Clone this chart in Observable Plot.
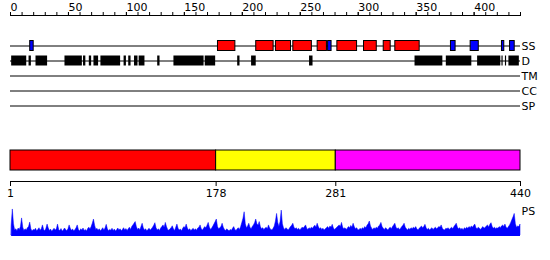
<!DOCTYPE html>
<html>
<head>
<meta charset="utf-8">
<script src="https://cdn.jsdelivr.net/npm/d3@7"></script>
<script src="https://cdn.jsdelivr.net/npm/@observablehq/plot@0.6"></script>
<style>
  html, body { margin: 0; padding: 0; background: #fff; }
  #chart { position: relative; width: 550px; height: 260px; background: #fff; overflow: hidden; }
  #chart svg { position: absolute; left: 0; }
</style>
</head>
<body>
<div id="chart"></div>
<script>
// ---------- data ----------
const seqLength = 440;
const tracks = ["SS", "D", "TM", "CC", "SP"];
const topTickLabels = [0, 50, 100, 150, 200, 250, 300, 350, 400];
const minorTicks = [0,10,20,30,40,50,60,70,80,90,100,110,120,130,140,150,160,170,180,190,200,210,220,230,240,250,260,270,280,290,300,310,320,330,340,350,360,370,380,390,400,410,420,430,440];

// secondary structure (start, end residues)
const helixStart = [179, 212, 229, 244, 265, 282, 305, 322, 332];
const helixEnd   = [194, 227, 242, 260, 273, 299, 316, 328, 353];
const strandStart = [17, 274, 380, 397, 424, 431];
const strandEnd   = [20, 277, 384, 404, 426, 435];

// disorder segments
const disorderStart = [1, 16, 22, 47, 63, 68, 72, 78, 98, 102, 107, 111, 127, 141, 168, 196, 208, 258, 349, 376, 403, 424, 427, 430];
const disorderEnd   = [14, 18, 32, 62, 65, 70, 76, 95, 100, 104, 110, 116, 129, 167, 177, 198, 212, 261, 373, 398, 423, 425, 428, 439];

// domains
const domainStart = [1, 178, 281];
const domainEnd = [178, 281, 440];
const domainColors = ["#ff0000", "#ffff00", "#ff00ff"];
const domainTicks = [1, 178, 281, 440];

// PS per-residue scores (1..440)
const psScores = [
0.35,0.93,0.40,0.18,0.22,0.15,0.25,0.20,0.30,0.61,0.28,0.16,0.22,0.18,0.26,0.30,0.46,0.22,0.14,0.20,
0.18,0.24,0.15,0.20,0.26,0.17,0.22,0.36,0.20,0.15,0.24,0.39,0.25,0.16,0.21,0.13,0.19,0.24,0.18,0.22,
0.39,0.20,0.16,0.23,0.14,0.18,0.25,0.20,0.15,0.22,0.36,0.24,0.17,0.21,0.15,0.19,0.26,0.36,0.20,0.14,
0.22,0.18,0.25,0.16,0.20,0.14,0.23,0.28,0.21,0.30,0.42,0.57,0.35,0.20,0.24,0.17,0.22,0.15,0.20,0.26,
0.18,0.25,0.38,0.22,0.15,0.20,0.17,0.24,0.16,0.21,0.14,0.19,0.25,0.18,0.22,0.15,0.20,0.26,0.18,0.23,
0.16,0.22,0.28,0.20,0.30,0.36,0.42,0.48,0.30,0.20,0.25,0.18,0.30,0.42,0.26,0.18,0.22,0.15,0.20,0.24,
0.18,0.22,0.28,0.35,0.44,0.26,0.18,0.22,0.16,0.25,0.30,0.36,0.28,0.45,0.30,0.20,0.17,0.22,0.26,0.33,
0.22,0.16,0.28,0.39,0.24,0.18,0.21,0.15,0.24,0.30,0.26,0.39,0.25,0.18,0.22,0.16,0.20,0.24,0.18,0.22,
0.17,0.25,0.28,0.36,0.22,0.18,0.24,0.30,0.26,0.35,0.45,0.28,0.20,0.25,0.32,0.40,0.48,0.57,0.30,0.22,
0.26,0.30,0.42,0.28,0.20,0.16,0.22,0.18,0.15,0.20,0.17,0.24,0.30,0.20,0.16,0.22,0.26,0.20,0.30,0.45,
0.60,0.83,0.40,0.26,0.32,0.42,0.28,0.22,0.30,0.36,0.44,0.57,0.40,0.35,0.48,0.30,0.22,0.26,0.20,0.24,
0.28,0.22,0.36,0.25,0.20,0.18,0.24,0.32,0.50,0.77,0.45,0.30,0.48,0.89,0.40,0.25,0.20,0.26,0.22,0.18,
0.24,0.30,0.35,0.42,0.28,0.22,0.26,0.20,0.24,0.18,0.22,0.28,0.25,0.30,0.36,0.24,0.20,0.26,0.22,0.28,
0.24,0.30,0.35,0.28,0.42,0.30,0.22,0.26,0.20,0.24,0.18,0.22,0.26,0.30,0.24,0.32,0.28,0.38,0.25,0.20,
0.24,0.28,0.32,0.36,0.30,0.45,0.28,0.22,0.26,0.20,0.24,0.30,0.26,0.34,0.28,0.42,0.30,0.22,0.26,0.20,
0.18,0.24,0.20,0.26,0.22,0.30,0.26,0.35,0.40,0.50,0.32,0.24,0.20,0.26,0.22,0.28,0.24,0.32,0.36,0.45,
0.30,0.24,0.20,0.26,0.22,0.18,0.24,0.28,0.22,0.30,0.36,0.42,0.28,0.22,0.26,0.20,0.24,0.30,0.35,0.42,
0.28,0.22,0.18,0.24,0.20,0.26,0.22,0.28,0.24,0.30,0.22,0.18,0.24,0.28,0.32,0.26,0.30,0.38,0.26,0.20,
0.24,0.18,0.22,0.26,0.20,0.24,0.28,0.22,0.26,0.30,0.28,0.36,0.24,0.20,0.18,0.24,0.22,0.26,0.20,0.24,
0.28,0.22,0.30,0.36,0.42,0.28,0.22,0.26,0.20,0.24,0.18,0.26,0.22,0.28,0.24,0.30,0.26,0.32,0.28,0.34,
0.39,0.26,0.22,0.28,0.24,0.20,0.26,0.30,0.24,0.28,0.32,0.36,0.28,0.38,0.44,0.30,0.24,0.28,0.22,0.26,
0.24,0.30,0.26,0.32,0.36,0.30,0.39,0.28,0.24,0.30,0.36,0.45,0.55,0.65,0.77,0.40,0.28,0.32,0.30,0.39
];

// ---------- build tables ----------
const helices = helixStart.map((s, i) => ({start: s, end: helixEnd[i], track: "SS"}));
const strands = strandStart.map((s, i) => ({start: s, end: strandEnd[i], track: "SS"}));
const disorder = disorderStart.map((s, i) => ({start: s, end: disorderEnd[i], track: "D"}));
const domains = domainStart.map((s, i) => ({start: s, end: domainEnd[i], color: domainColors[i], row: "domains"}));
const ps = psScores.map((v, i) => ({pos: i + 1, score: v}));

const baseStyle = {fontFamily: "DejaVu Sans, Verdana, sans-serif", fontSize: "11px", background: "transparent", color: "black", overflow: "visible"};
const chartEl = document.getElementById("chart");

// ---------- top: ruler + feature tracks ----------
const trackPlot = Plot.plot({
  width: 550, height: 115,
  marginLeft: 10, marginRight: 30, marginTop: 15, marginBottom: 2,
  style: baseStyle,
  x: {domain: [0, seqLength], axis: null},
  y: {type: "band", domain: tracks, range: [37.5, 112.5], padding: 0, axis: null},
  marks: [
    Plot.frame({anchor: "top", stroke: "black"}),
    Plot.axisX({anchor: "top", ticks: minorTicks, tickSize: 4, tickFormat: () => "", stroke: "black"}),
    Plot.axisX({anchor: "top", ticks: topTickLabels, tickSize: 4, tickPadding: 1, textAnchor: "start", stroke: "black", fill: "black"}),
    Plot.ruleY(tracks, {y: d => d, x1: 0, x2: seqLength, stroke: "black", strokeWidth: 1}),
    Plot.barX(disorder, {x1: "start", x2: "end", y: "track", fill: "black", insetTop: 2.5, insetBottom: 2.5}),
    Plot.barX(helices, {x1: "start", x2: "end", y: "track", fill: "#ff0000", stroke: "black", strokeWidth: 1, insetTop: 2.5, insetBottom: 2.5}),
    Plot.barX(strands, {x1: "start", x2: "end", y: "track", fill: "#0000ff", stroke: "black", strokeWidth: 1, insetTop: 2.5, insetBottom: 2.5}),
    Plot.text(tracks, {y: d => d, x: seqLength, text: d => d, textAnchor: "start", dx: 1, fill: "black"})
  ]
});
trackPlot.style.top = "0px";
chartEl.appendChild(trackPlot);

// ---------- middle: domain bar + axis ----------
const domainPlot = Plot.plot({
  width: 550, height: 65,
  marginLeft: 10, marginRight: 30, marginTop: 10, marginBottom: 24,
  style: baseStyle,
  x: {domain: [1, seqLength], axis: null},
  y: {type: "band", domain: ["domains"], range: [10, 30], padding: 0, axis: null},
  marks: [
    Plot.barX(domains, {x1: "start", x2: "end", y: "row", fill: "color", stroke: "black", strokeWidth: 1}),
    Plot.frame({anchor: "bottom", stroke: "black"}),
    Plot.axisX({anchor: "bottom", ticks: domainTicks, tickSize: 5, tickPadding: 3, tickFormat: d => String(d), stroke: "black", fill: "black"})
  ]
});
domainPlot.style.top = "140px";
chartEl.appendChild(domainPlot);

// ---------- bottom: PS profile ----------
const psPlot = Plot.plot({
  width: 550, height: 40,
  marginLeft: 10, marginRight: 30, marginTop: 7, marginBottom: 5,
  style: baseStyle,
  x: {domain: [0, seqLength], axis: null},
  y: {domain: [0, 1], axis: null},
  marks: [
    Plot.areaY(ps, {x: "pos", y: "score", fill: "#0000ff", stroke: "#0000ff", strokeWidth: 0.5}),
    Plot.ruleY([0], {x1: 1, x2: seqLength, stroke: "#0000ff"}),
    Plot.text(["PS"], {x: seqLength, y: 0.86, text: d => d, textAnchor: "start", dx: 1, fill: "black"})
  ]
});
psPlot.style.top = "200px";
chartEl.appendChild(psPlot);
</script>
</body>
</html>
